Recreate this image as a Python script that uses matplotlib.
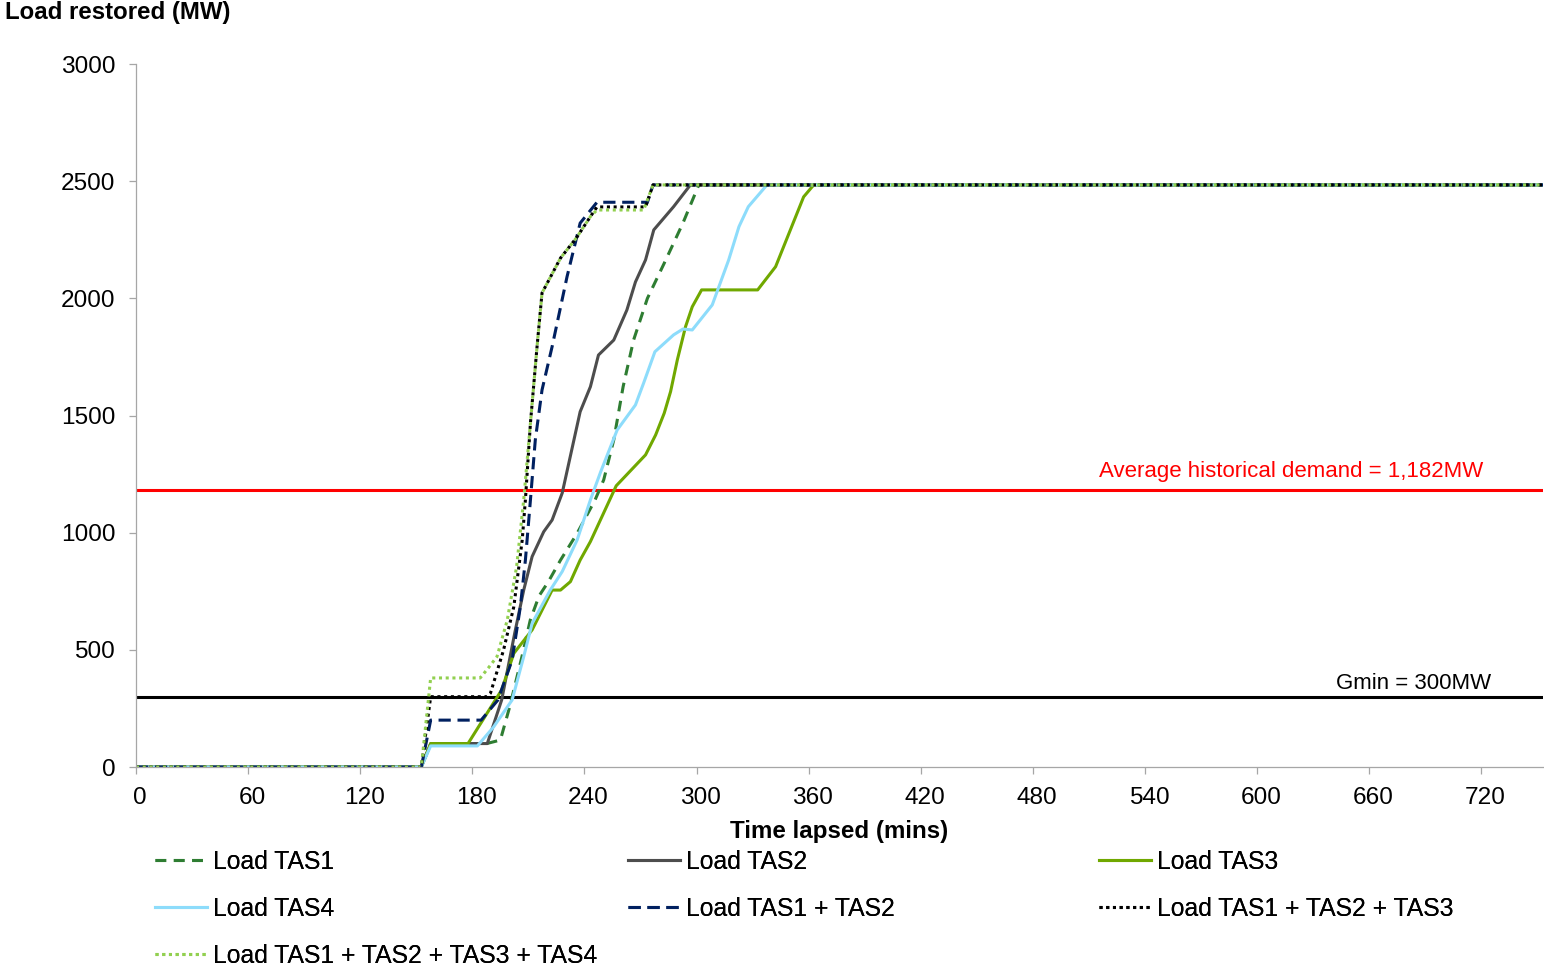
import matplotlib
matplotlib.use("Agg")
import matplotlib.pyplot as plt
import matplotlib.transforms as mtransforms

plt.rcParams['font.family'] = ['Liberation Sans', 'DejaVu Sans']

# time (mins) and load restored (MW)
t_tas1 = [0, 152.7, 157.7, 187.7, 195, 200, 207, 211, 215.7, 220.7, 227.2, 236, 245.7,
          250.3, 255.7, 260.7, 266.3, 273.7, 282.7, 292.7, 301.2, 753]
y_tas1 = [0, 0, 100, 100, 115, 257, 486, 627, 730, 791, 883, 996, 1140,
          1225, 1396, 1623, 1822, 2000, 2150, 2321, 2484, 2484]

t_tas2 = [0, 152.7, 157.7, 188, 195.7, 202.7, 207.5, 212, 218.2, 222.7, 228.1, 237.7,
          243.2, 247.5, 255.7, 262.7, 267.3, 272.7, 277.1, 287.7, 296.7, 753]
y_tas2 = [0, 0, 100, 100, 286, 572, 755, 898, 1004, 1054, 1169, 1516,
          1623, 1758, 1822, 1950, 2070, 2164, 2292, 2391, 2484, 2484]

t_tas3 = [0, 152.7, 157.7, 177.7, 195.7, 202.2, 212, 222.7, 227.2, 232.5, 237.7, 243.2,
          257, 272.7, 278.1, 282.7, 286.1, 289.7, 294.1, 297.7, 302.7, 332.7, 342.3,
          357.3, 362.7, 753]
y_tas3 = [0, 0, 100, 100, 329, 485, 585, 755, 755, 791, 883, 962,
          1200, 1332, 1417, 1510, 1602, 1737, 1879, 1964, 2036, 2036, 2135,
          2433, 2484, 2484]

t_tas4 = [0, 152.7, 157.7, 182.7, 191.3, 201.3, 207.5, 212, 221.7, 228.1, 236.1, 243.2,
          248.7, 257.5, 267.3, 271.7, 277.7, 287.7, 292.7, 297.7, 308.4, 317.2, 322.7,
          327.7, 337.7, 753]
y_tas4 = [0, 0, 90, 90, 170, 286, 471, 613, 755, 834, 969, 1140,
          1260, 1438, 1545, 1639, 1772, 1844, 1869, 1865, 1972, 2164, 2306,
          2391, 2484, 2484]

t_tas12 = [0, 152.7, 157.7, 184.7, 193.7, 201.3, 205.7, 208.4, 211.1, 213.7, 217.3,
           222.7, 230.7, 237.7, 246.7, 273.7, 276.7, 753]
y_tas12 = [0, 0, 200, 200, 286, 457, 684, 883, 1140, 1396, 1609,
           1794, 2093, 2321, 2410, 2410, 2484, 2484]

t_tas123 = [0, 152.7, 157.7, 187.7, 189.7, 196.7, 202.2, 206.7, 208.4, 211.1, 214.7,
            217.3, 227.2, 235.7, 243.2, 246.7, 272.7, 276.7, 753]
y_tas123 = [0, 0, 300, 300, 315, 499, 684, 969, 1140, 1468, 1800,
            2023, 2172, 2258, 2349, 2390, 2390, 2484, 2484]

t_tas1234 = [0, 152.7, 157.7, 184.2, 188.5, 193.2, 198.7, 203.7, 207.5, 211.1, 214.7,
             217.3, 227.2, 235.7, 243.2, 246.7, 271.7, 276.7, 753]
y_tas1234 = [0, 0, 380, 380, 422, 471, 627, 855, 1140, 1468, 1800,
             2023, 2172, 2258, 2349, 2377, 2377, 2484, 2484]

avg_demand = 1182
gmin = 300

fig = plt.figure(figsize=(15.44, 9.65), dpi=100)
ax = fig.add_axes([136 / 1544, 198 / 965, 1407 / 1544, 703 / 965])

lw = 2.2
h1, = ax.plot(t_tas1, y_tas1, color='#2e7d32', lw=lw, linestyle=(0, (3.5, 2.5)), label='Load TAS1')
h2, = ax.plot(t_tas2, y_tas2, color='#4d4d4d', lw=lw, label='Load TAS2')
h3, = ax.plot(t_tas3, y_tas3, color='#70a800', lw=lw, label='Load TAS3')
h4, = ax.plot(t_tas4, y_tas4, color='#8ddcfb', lw=lw, label='Load TAS4')
h5, = ax.plot(t_tas12, y_tas12, color='#002060', lw=lw, linestyle=(0, (4, 2.2)), label='Load TAS1 + TAS2')
h6, = ax.plot(t_tas123, y_tas123, color='black', lw=lw, linestyle=(0, (1, 1.2)), label='Load TAS1 + TAS2 + TAS3')
h7, = ax.plot(t_tas1234, y_tas1234, color='#92d050', lw=lw, linestyle=(0, (1, 1.2)), label='Load TAS1 + TAS2 + TAS3 + TAS4')

ax.axhline(avg_demand, color='#ff0000', lw=2.2, zorder=1)
ax.axhline(gmin, color='black', lw=2.2, zorder=1)
ax.text(721, 1260, 'Average historical demand = 1,182MW', color='#ff0000', fontsize=16,
        ha='right', va='center')
ax.text(725, 356, 'Gmin = 300MW', color='black', fontsize=16, ha='right', va='center')

ax.set_xlim(0, 753)
ax.set_ylim(0, 3000)
ax.set_xticks(range(0, 721, 60))
ax.set_yticks(range(0, 3001, 500))
for s in ['top', 'right']:
    ax.spines[s].set_visible(False)
for s in ['left', 'bottom']:
    ax.spines[s].set_color('#a6a6a6')
    ax.spines[s].set_linewidth(0.9)
ax.tick_params(axis='both', direction='out', length=5, width=0.9, color='#a6a6a6',
               labelsize=17.6, labelcolor='black')
ax.tick_params(axis='y', pad=10)
ax.tick_params(axis='x', pad=9.5)
offset = mtransforms.ScaledTranslation(4 / 100, 0, fig.dpi_scale_trans)
for lab in ax.get_xticklabels():
    lab.set_transform(lab.get_transform() + offset)

ax.set_xlabel('Time lapsed (mins)', fontsize=17.4, fontweight='bold', labelpad=8)
fig.text(5 / 1544, 1 - 12 / 965, 'Load restored (MW)', fontsize=17.3, fontweight='bold',
         ha='left', va='center')

cols = [([h1, h4, h7], 155), ([h2, h5], 628), ([h3, h6], 1099)]
for handles, xpx in cols:
    leg = fig.legend(handles=handles, loc='upper left', bbox_to_anchor=(xpx / 1544, 1 - 850 / 965),
                     frameon=False, fontsize=17.8, handlelength=2.1, handletextpad=0.25,
                     labelspacing=0.93, borderpad=0, borderaxespad=0)
    fig.add_artist(leg)

fig.savefig('out.png', dpi=100)
